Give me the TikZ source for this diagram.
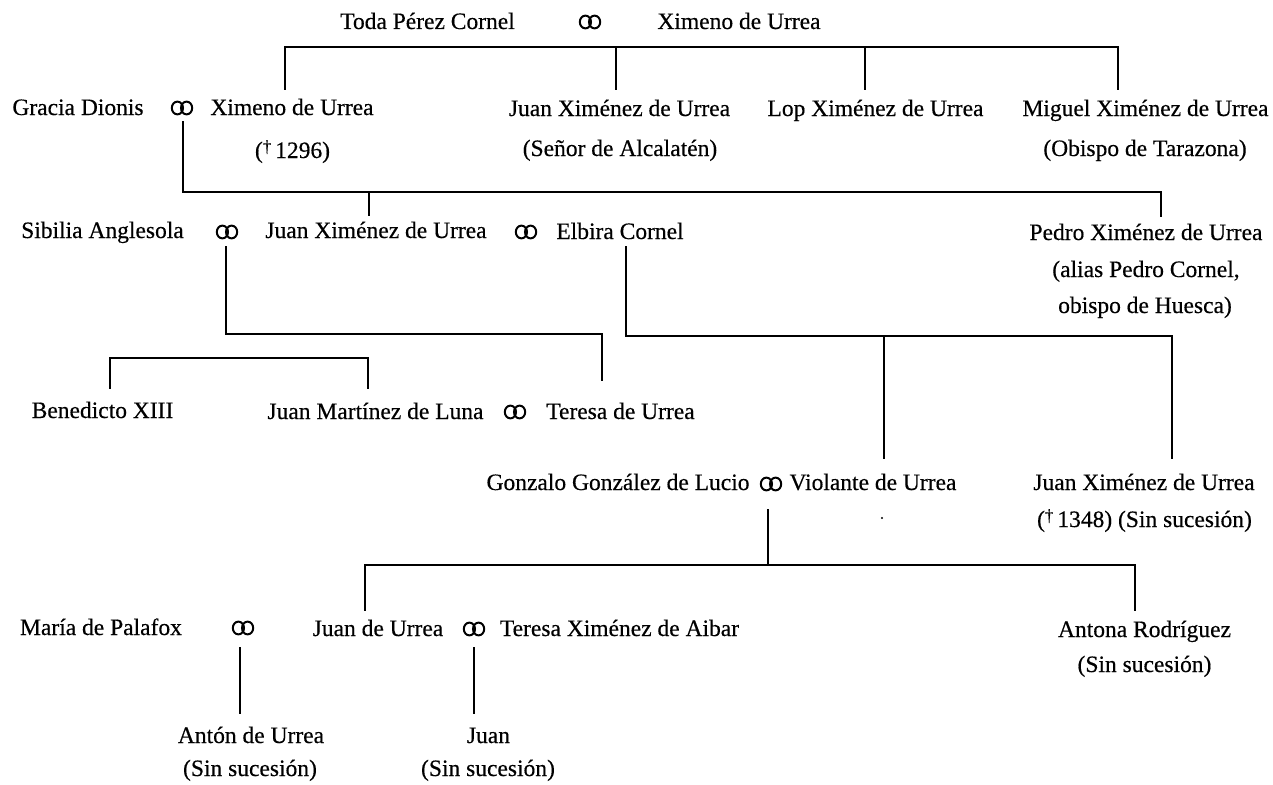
\documentclass[tikz,border=0pt]{standalone}
\usepackage{fontspec}
\setmainfont{Liberation Serif}[FakeBold=0.4]
\newcommand{\dg}{\raisebox{6pt}{\fontsize{17}{17}\selectfont †}}
\begin{document}
\begin{tikzpicture}[x=1pt,y=-1pt,
  lbl/.style={inner sep=0pt, anchor=base, font=\fontsize{23.5}{28}\selectfont},
  link/.style={line width=1.6pt, line cap=rect},
  rings/.pic={\draw[line width=2pt] (-4.6,0) ellipse [x radius=5.6, y radius=6.4] (4.6,0) ellipse [x radius=5.6, y radius=6.4]; \coordinate (-c) at (0,0);}]
\useasboundingbox[fill=white] (0,0) rectangle (1273,784);

% generation 1
\node[lbl] (toda) at (427.5,29) {Toda Pérez Cornel};
\pic (m1) at (590,22) {rings};
\node[lbl] (ximA) at (739,29) {Ximeno de Urrea};

% generation 2
\node[lbl] (gracia) at (78,115) {Gracia Dionis};
\pic (m2) at (182,108) {rings};
\node[lbl] (ximB) at (292,115) {Ximeno de Urrea};
\node[lbl] (ximBd) at (292.5,158) {(\dg\,1296)};
\node[lbl] (juanA) at (619.5,116) {Juan Ximénez de Urrea};
\node[lbl] (juanAd) at (620,156) {(Señor de Alcalatén)};
\node[lbl] (lop) at (875.5,116) {Lop Ximénez de Urrea};
\node[lbl] (miguel) at (1145.5,116) {Miguel Ximénez de Urrea};
\node[lbl] (miguelD) at (1145,156) {(Obispo de Tarazona)};

% generation 3
\node[lbl] (sibilia) at (102.5,238) {Sibilia Anglesola};
\pic (m3) at (227,232) {rings};
\node[lbl] (juanB) at (376,238) {Juan Ximénez de Urrea};
\pic (m4) at (526,232) {rings};
\node[lbl] (elbira) at (620,239) {Elbira Cornel};
\node[lbl] (pedro) at (1146,240) {Pedro Ximénez de Urrea};
\node[lbl] (pedroD1) at (1146,277) {(alias Pedro Cornel,};
\node[lbl] (pedroD2) at (1145,313) {obispo de Huesca)};

% generation 4
\node[lbl] (bened) at (102.5,418) {Benedicto XIII};
\node[lbl] (luna) at (375.5,419) {Juan Martínez de Luna};
\pic (m5) at (515,412) {rings};
\node[lbl] (teresa) at (620.5,419) {Teresa de Urrea};
\node[lbl] (gonzalo) at (618,490) {Gonzalo González de Lucio};
\pic (m6) at (771,484) {rings};
\node[lbl] (violante) at (873,490) {Violante de Urrea};
\node[lbl] (juanC) at (1144,490) {Juan Ximénez de Urrea};
\node[lbl] (juanCd) at (1144.5,527) {(\dg\,1348) (Sin sucesión)};
\fill (882,518) circle [radius=1.2];

% generation 5
\node[lbl] (maria) at (101,635) {María de Palafox};
\pic (m7) at (243,628) {rings};
\node[lbl] (juanD) at (378,636) {Juan de Urrea};
\pic (m8) at (474,629) {rings};
\node[lbl] (teresaX) at (619.5,636) {Teresa Ximénez de Aibar};
\node[lbl] (antona) at (1144.5,637) {Antona Rodríguez};
\node[lbl] (antonaD) at (1144.5,672) {(Sin sucesión)};

% generation 6
\node[lbl] (anton) at (251,743) {Antón de Urrea};
\node[lbl] (antonD) at (250,776) {(Sin sucesión)};
\node[lbl] (juanE) at (488.5,743) {Juan};
\node[lbl] (juanED) at (488,776) {(Sin sucesión)};

% connectors
\coordinate (b1) at (285,47);
\coordinate (b1r) at (1118,47);
\draw[link] (b1 |- 0,89) -- (b1) -- (b1r) -- (b1r |- 0,89);
\draw[link] (616,47) -- (616,89);
\draw[link] (865,47) -- (865,89);

\coordinate (b2) at (183,192);
\coordinate (b2r) at (1161,192);
\draw[link] (b2 |- 0,122) -- (b2) -- (b2r) -- (b2r |- 0,216);
\draw[link] (369,192) -- (369,215);

\coordinate (b3) at (226,334);
\coordinate (b3r) at (602,334);
\draw[link] (b3 |- 0,247) -- (b3) -- (b3r) -- (b3r |- 0,380);

\coordinate (b4) at (110,358);
\coordinate (b4r) at (368,358);
\draw[link] (b4 |- 0,388) -- (b4) -- (b4r) -- (b4r |- 0,388);

\coordinate (b5) at (626,336);
\coordinate (b5r) at (1172,336);
\draw[link] (b5 |- 0,247) -- (b5) -- (b5r) -- (b5r |- 0,458);
\draw[link] (884,336) -- (884,458);

\coordinate (b6) at (365,565);
\coordinate (b6r) at (1135,565);
\draw[link] (b6 |- 0,610) -- (b6) -- (b6r) -- (b6r |- 0,610);
\draw[link] (768,510) -- (768,565);

\draw[link] (240,648) -- (240,713);
\draw[link] (474,648) -- (474,713);
\end{tikzpicture}
\end{document}
